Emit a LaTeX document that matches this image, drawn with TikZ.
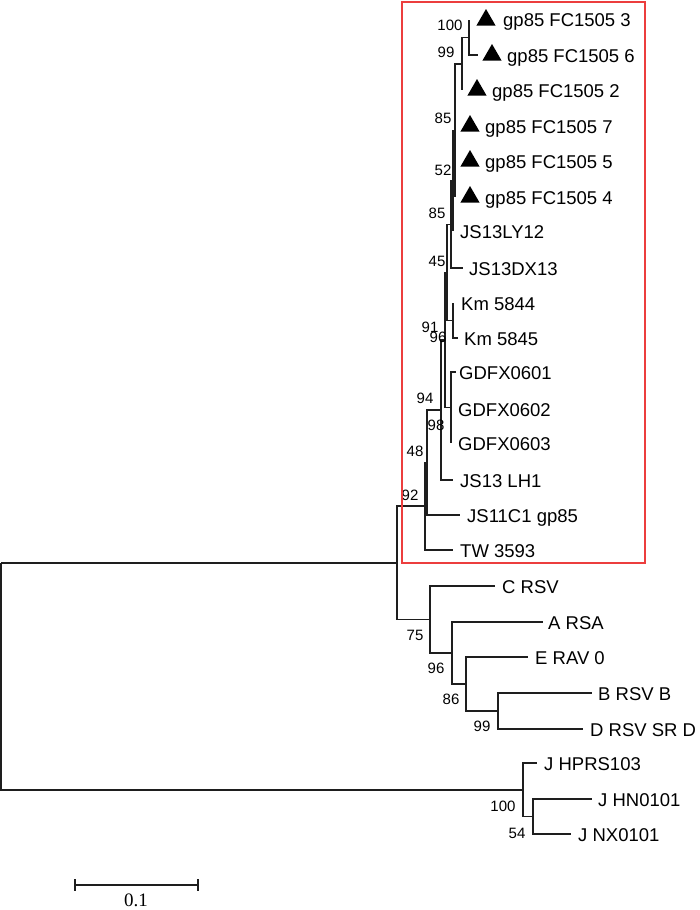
\documentclass[tikz,border=0pt]{standalone}
\usepackage{fontspec}
\setmainfont{Liberation Sans}
\newfontfamily\scalefont{Liberation Serif}
\usetikzlibrary{shapes.geometric}
\definecolor{brcol}{RGB}{30,30,30}
\definecolor{boxred}{RGB}{236,62,62}
\begin{document}
\begin{tikzpicture}[x=1pt,y=-1pt,
  br/.style={line width=1.2pt, draw=brcol},
  leaf/.style={anchor=base west, inner sep=0pt, font=\fontsize{18.5}{20}\selectfont},
  boot/.style={anchor=base, inner sep=0pt, font=\fontsize{15}{16}\selectfont},
  tri/.style={regular polygon, regular polygon sides=3, fill=black, minimum size=22pt, inner sep=0pt}]
\useasboundingbox (0,0) rectangle (700,910);
% ---------- leaf tips ----------
\coordinate (FC3) at (469,20);
\coordinate (FC6) at (478,55);
\coordinate (FC2) at (462,90);
\coordinate (FC7) at (455,126);
\coordinate (FC5) at (455,161);
\coordinate (FC4) at (455,197);
\coordinate (LY12) at (453,231);
\coordinate (DX13) at (463,268);
\coordinate (Km44) at (453,303);
\coordinate (Km45) at (458,338);
\coordinate (GD1) at (456,372);
\coordinate (GD2) at (451,409);
\coordinate (GD3) at (451,443);
\coordinate (LH1) at (453,480);
\coordinate (C1) at (460,515);
\coordinate (TW) at (453,550);
\coordinate (CRSV) at (495,586);
\coordinate (ARSA) at (543,622);
\coordinate (ERAV) at (528,657);
\coordinate (BRSV) at (592,693);
\coordinate (DRSV) at (583,729);
\coordinate (JHP) at (537,763);
\coordinate (JHN) at (592,799);
\coordinate (JNX) at (571,834);
% ---------- internal nodes ----------
\coordinate (n100) at (469,37.5);
\coordinate (n99) at (462,64);
\coordinate (n85a) at (455,130.5);
\coordinate (n52) at (453,181);
\coordinate (n85b) at (451,224.5);
\coordinate (nKm) at (453,320.5);
\coordinate (n45) at (447,272.5);
\coordinate (nGD) at (451,407.5);
\coordinate (n91) at (445,340);
\coordinate (n94) at (441,410);
\coordinate (n48) at (427,462.5);
\coordinate (n92) at (425,506);
\coordinate (nB99) at (498,711);
\coordinate (n86) at (466,684);
\coordinate (n96) at (452,653);
\coordinate (n75) at (430,619.5);
\coordinate (n397) at (397,563);
\coordinate (n54) at (533,816.5);
\coordinate (nJ) at (523,790);
\coordinate (root) at (1,563);
% ---------- branches ----------
\draw[br] (n100) |- (FC3);
\draw[br] (n100) |- (FC6);
\draw[br] (n99) |- (n100);
\draw[br] (n99) |- (FC2);
\draw[br] (n85a) |- (n99);
\draw[br] (n85a) |- (FC7);
\draw[br] (n85a) |- (FC5);
\draw[br] (n85a) |- (FC4);
\draw[br] (n52) |- (n85a);
\draw[br] (n52) |- (LY12);
\draw[br] (n85b) |- (n52);
\draw[br] (n85b) |- (DX13);
\draw[br] (nKm) |- (Km44);
\draw[br] (nKm) |- (Km45);
\draw[br] (n45) |- (n85b);
\draw[br] (n45) |- (nKm);
\draw[br] (nGD) |- (GD1);
\draw[br] (nGD) |- (GD2);
\draw[br] (nGD) |- (GD3);
\draw[br] (n91) |- (n45);
\draw[br] (n91) |- (nGD);
\draw[br] (n94) |- (n91);
\draw[br] (n94) |- (LH1);
\draw[br] (n48) |- (n94);
\draw[br] (n48) |- (C1);
\draw[br] (n92) |- (n48);
\draw[br] (n92) |- (TW);
\draw[br] (nB99) |- (BRSV);
\draw[br] (nB99) |- (DRSV);
\draw[br] (n86) |- (ERAV);
\draw[br] (n86) |- (nB99);
\draw[br] (n96) |- (ARSA);
\draw[br] (n96) |- (n86);
\draw[br] (n75) |- (CRSV);
\draw[br] (n75) |- (n96);
\draw[br] (n397) |- (n92);
\draw[br] (n397) |- (n75);
\draw[br] (n54) |- (JHN);
\draw[br] (n54) |- (JNX);
\draw[br] (nJ) |- (JHP);
\draw[br] (nJ) |- (n54);
\draw[br] (root) |- (n397);
\draw[br] (root) |- (nJ);
% ---------- triangles ----------
\node[tri] (tFC3) at (486,20) {};
\node[tri] (tFC6) at (492,55) {};
\node[tri] (tFC2) at (477,90) {};
\node[tri] (tFC7) at (470,126) {};
\node[tri] (tFC5) at (470,161) {};
\node[tri] (tFC4) at (470,197) {};
% ---------- leaf labels ----------
\node[leaf] (lFC3) at (503,27) {gp85 FC1505 3};
\node[leaf] (lFC6) at (507,62) {gp85 FC1505 6};
\node[leaf] (lFC2) at (492,97) {gp85 FC1505 2};
\node[leaf] (lFC7) at (485,133) {gp85 FC1505 7};
\node[leaf] (lFC5) at (485,168) {gp85 FC1505 5};
\node[leaf] (lFC4) at (485,204) {gp85 FC1505 4};
\node[leaf] (lLY12) at (460,238) {JS13LY12};
\node[leaf] (lDX13) at (469,275) {JS13DX13};
\node[leaf] (lKm44) at (461,310) {Km 5844};
\node[leaf] (lKm45) at (464,345) {Km 5845};
\node[leaf] (lGD1) at (459,379) {GDFX0601};
\node[leaf] (lGD2) at (458,416) {GDFX0602};
\node[leaf] (lGD3) at (458,450) {GDFX0603};
\node[leaf] (lLH1) at (460,487) {JS13 LH1};
\node[leaf] (lC1) at (467,522) {JS11C1 gp85};
\node[leaf] (lTW) at (460,557) {TW 3593};
\node[leaf] (lCRSV) at (502,593) {C RSV};
\node[leaf] (lARSA) at (548,629) {A RSA};
\node[leaf] (lERAV) at (535,664) {E RAV 0};
\node[leaf] (lBRSV) at (598,700) {B RSV B};
\node[leaf] (lDRSV) at (590,736) {D RSV SR D};
\node[leaf] (lJHP) at (544,770) {J HPRS103};
\node[leaf] (lJHN) at (598,806) {J HN0101};
\node[leaf] (lJNX) at (578,841) {J NX0101};
% ---------- bootstrap values ----------
\node[boot] (b100) at (450,30.5) {100};
\node[boot] (b99) at (446,57.5) {99};
\node[boot] (b85a) at (443,123.5) {85};
\node[boot] (b52) at (443,175.5) {52};
\node[boot] (b85b) at (437,218.5) {85};
\node[boot] (b45) at (437,266.5) {45};
\node[boot] (b91) at (430,332) {91};
\node[boot] (b96a) at (438,342) {96};
\node[boot] (b94) at (425,403.5) {94};
\node[boot] (b98) at (436,430.5) {98};
\node[boot] (b48) at (415,456.5) {48};
\node[boot] (b92) at (410,500) {92};
\node[boot] (b75) at (415,640.5) {75};
\node[boot] (b96b) at (436,673.5) {96};
\node[boot] (b86) at (451,704.5) {86};
\node[boot] (b99b) at (482,731.5) {99};
\node[boot] (b100J) at (503,811.5) {100};
\node[boot] (b54) at (517,838.5) {54};
% ---------- highlight box ----------
\draw[boxred, line width=1.5pt] (402,2) rectangle (645,563);
% ---------- scale bar ----------
\coordinate (sbL) at (75,885);
\coordinate (sbR) at (198,885);
\draw[br] (sbL) -- (sbR);
\draw[br] (sbL) ++(0,-6) -- ++(0,12);
\draw[br] (sbR) ++(0,-6) -- ++(0,12);
\node[anchor=base, inner sep=0pt, font=\scalefont\fontsize{19}{21}\selectfont] (sblab) at (136,906) {0.1};
\end{tikzpicture}
\end{document}
